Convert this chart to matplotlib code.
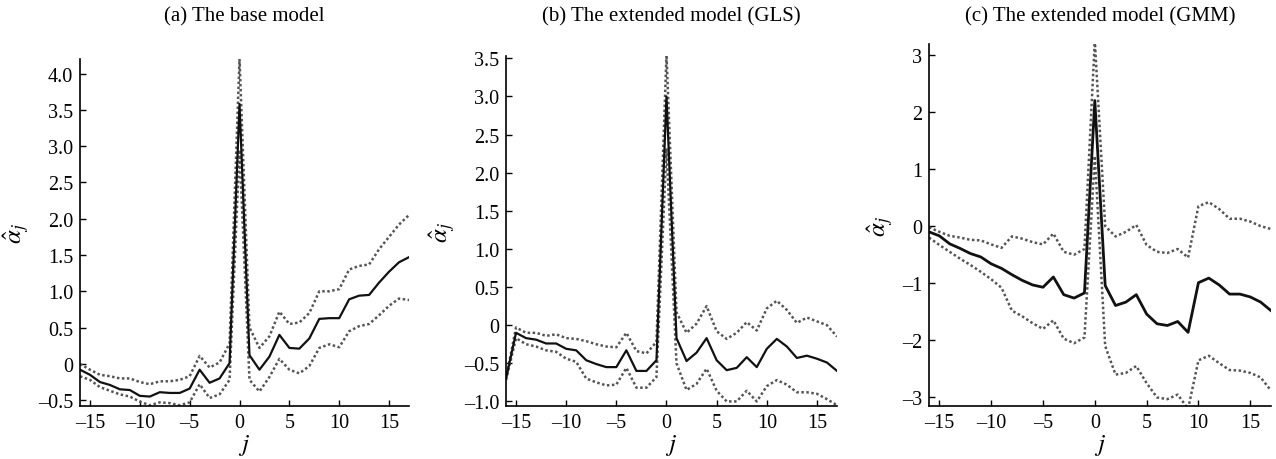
import numpy as np
import matplotlib.pyplot as plt

plt.rcParams['font.family'] = ['Liberation Serif', 'DejaVu Serif']
plt.rcParams['mathtext.fontset'] = 'stix'

j = list(range(-16, 18))

# (a) base model
est_a = [-0.08, -0.15, -0.25, -0.29, -0.35, -0.36, -0.44, -0.45, -0.39, -0.40, -0.40, -0.34,
         -0.08, -0.26, -0.20, 0.01, 3.58, 0.12, -0.08, 0.10, 0.40, 0.22, 0.21, 0.35,
         0.62, 0.63, 0.63, 0.89, 0.94, 0.95, 1.12, 1.27, 1.40, 1.47]
up_a = [0.00, -0.08, -0.15, -0.17, -0.20, -0.20, -0.25, -0.28, -0.24, -0.24, -0.22, -0.17,
        0.11, -0.05, 0.02, 0.28, 4.20, 0.50, 0.22, 0.38, 0.72, 0.55, 0.57, 0.70,
        1.00, 1.00, 1.03, 1.30, 1.35, 1.37, 1.58, 1.75, 1.92, 2.05]
lo_a = [-0.17, -0.22, -0.32, -0.37, -0.42, -0.45, -0.52, -0.57, -0.53, -0.54, -0.57, -0.53,
        -0.28, -0.47, -0.42, -0.22, 2.95, -0.22, -0.38, -0.18, 0.07, -0.08, -0.13, -0.03,
        0.22, 0.27, 0.23, 0.45, 0.52, 0.55, 0.67, 0.80, 0.90, 0.88]

# (b) extended model, GLS
est_b = [-0.70, -0.10, -0.17, -0.19, -0.24, -0.24, -0.31, -0.33, -0.46, -0.51, -0.55, -0.55,
         -0.33, -0.60, -0.60, -0.46, 3.00, -0.17, -0.47, -0.36, -0.17, -0.46, -0.59, -0.56,
         -0.42, -0.55, -0.31, -0.18, -0.28, -0.43, -0.40, -0.44, -0.49, -0.60]
up_b = [-0.70, -0.03, -0.10, -0.10, -0.14, -0.12, -0.17, -0.18, -0.21, -0.25, -0.28, -0.29,
        -0.10, -0.34, -0.37, -0.22, 3.55, 0.17, -0.10, 0.02, 0.25, -0.08, -0.18, -0.10,
        0.04, -0.07, 0.22, 0.32, 0.20, 0.03, 0.10, 0.05, 0.00, -0.15]
lo_b = [-0.72, -0.17, -0.25, -0.28, -0.33, -0.35, -0.44, -0.48, -0.70, -0.75, -0.79, -0.78,
        -0.56, -0.82, -0.82, -0.68, 2.32, -0.50, -0.85, -0.77, -0.57, -0.86, -1.00, -1.00,
        -0.86, -1.00, -0.80, -0.72, -0.78, -0.88, -0.88, -0.90, -0.97, -1.05]

# (c) extended model, GMM
est_c = [-0.10, -0.17, -0.31, -0.39, -0.48, -0.54, -0.66, -0.74, -0.85, -0.95, -1.03, -1.07,
         -0.89, -1.20, -1.26, -1.17, 2.20, -1.04, -1.39, -1.33, -1.20, -1.54, -1.71, -1.74,
         -1.67, -1.86, -0.99, -0.91, -1.03, -1.19, -1.19, -1.24, -1.33, -1.48]
up_c = [-0.02, -0.10, -0.17, -0.20, -0.24, -0.25, -0.32, -0.38, -0.18, -0.22, -0.28, -0.32,
        -0.13, -0.45, -0.50, -0.40, 3.25, 0.00, -0.18, -0.10, 0.02, -0.33, -0.45, -0.47,
        -0.40, -0.55, 0.35, 0.42, 0.30, 0.13, 0.13, 0.08, 0.00, -0.05]
lo_c = [-0.20, -0.33, -0.45, -0.57, -0.68, -0.80, -0.93, -1.08, -1.48, -1.58, -1.70, -1.80,
        -1.65, -1.97, -2.05, -1.95, 1.23, -2.10, -2.60, -2.57, -2.45, -2.75, -3.00, -3.03,
        -2.95, -3.20, -2.35, -2.27, -2.40, -2.52, -2.53, -2.57, -2.65, -2.88]

titles = ["(a) The base model", "(b) The extended model (GLS)", "(c) The extended model (GMM)"]
series = [(est_a, up_a, lo_a), (est_b, up_b, lo_b), (est_c, up_c, lo_c)]
ylims = [(-0.58, 4.2), (-1.06, 3.53), (-3.15, 3.19)]
yticks = [np.arange(-0.5, 4.01, 0.5), np.arange(-1.0, 3.51, 0.5), np.arange(-3, 3.1, 1)]
# axes rectangles in pixels (left, right, top, bottom)
rects = [(80, 409, 60, 407), (506, 837, 57, 407), (929, 1271, 45, 407)]
lws = [1.6, 1.6, 2.0]
DASH = '\u2013'

W, H = 1276, 460
fig = plt.figure(figsize=(W / 100, H / 100), dpi=100)

for k in range(3):
    l, r, t, b = rects[k]
    ax = fig.add_axes([l / W, 1 - b / H, (r - l) / W, (b - t) / H])
    est, up, lo = series[k]
    ax.plot(j, up, color='#555555', lw=1.8, linestyle=(0, (1, 1)))
    ax.plot(j, lo, color='#555555', lw=1.8, linestyle=(0, (1, 1)))
    ax.plot(j, est, color='#111111', lw=lws[k])
    ax.set_xlim(-16, 17)
    ax.set_ylim(*ylims[k])
    xt = [-15, -10, -5, 0, 5, 10, 15]
    ax.set_xticks(xt)
    ax.set_xticklabels([DASH + str(abs(v)) if v < 0 else str(v) for v in xt])
    yt = yticks[k]
    ax.set_yticks(yt)
    if k == 2:
        ax.set_yticklabels([DASH + '%d' % abs(v) if v < 0 else '%d' % v for v in yt])
    else:
        ax.set_yticklabels([DASH + '%.1f' % abs(v) if v < 0 else ('0' if v == 0 else '%.1f' % v) for v in yt])
    for s in ['top', 'right']:
        ax.spines[s].set_visible(False)
    ax.spines['left'].set_linewidth(1.2)
    ax.spines['bottom'].set_linewidth(1.2)
    ax.tick_params(direction='in', length=4, width=1.0, labelsize=14.5, pad=5)
    ax.set_xlabel('$j$', fontsize=18, labelpad=0)
    ax.set_ylabel(r'$\hat{\alpha}_j$', fontsize=18, labelpad=4)
    fig.text((l + r) / 2 / W, 1 - 17 / H, titles[k], ha='center', va='center', fontsize=15)

fig.savefig('out.png', dpi=100)
